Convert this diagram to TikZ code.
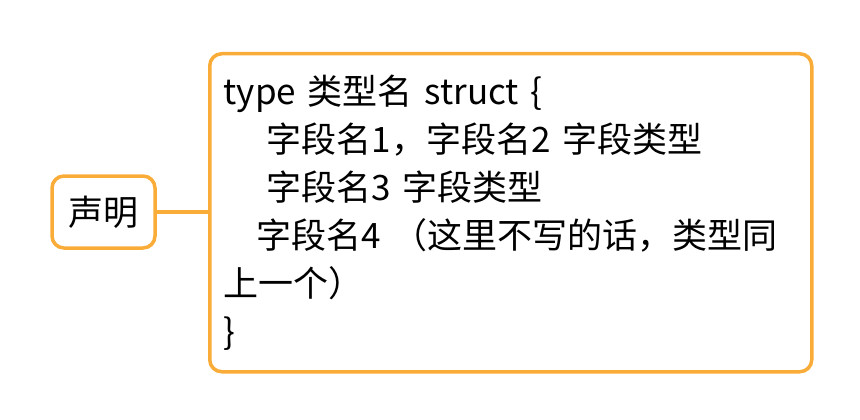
\documentclass[tikz,border=0pt]{standalone}
\usepackage{fontspec}
\setmainfont{Noto Sans CJK SC}
\definecolor{orng}{RGB}{250,172,56}
\begin{document}
\begin{tikzpicture}[x=1pt,y=-1pt,
  box/.style={draw=orng,line width=3.5pt,rounded corners=12pt,fill=white},
  link/.style={draw=orng,line width=3.5pt}]
\useasboundingbox (0,0) rectangle (860,420);
\node[box, minimum width=103pt, minimum height=72pt, inner sep=0pt,
      font=\fontsize{35}{42}\selectfont] (decl) at (103.5,212) {声明};
\node[box, anchor=north west, minimum height=318pt, inner xsep=14pt, inner ysep=0pt,
      align=left, text width=574pt, font=\fontsize{35}{48}\selectfont] (body) at (208,52)
{\mbox{type 类型名 struct \{}\\
\mbox{\hspace*{43pt}字段名1，字段名2 字段类型}\\
\mbox{\hspace*{43pt}字段名3 字段类型}\\
\mbox{\hspace*{33pt}字段名4 （这里不写的话，类型同}\\
\mbox{上一个）}\\
\mbox{\}}};
\draw[link] (decl.east) -- (decl.east -| body.west);
\end{tikzpicture}
\end{document}
